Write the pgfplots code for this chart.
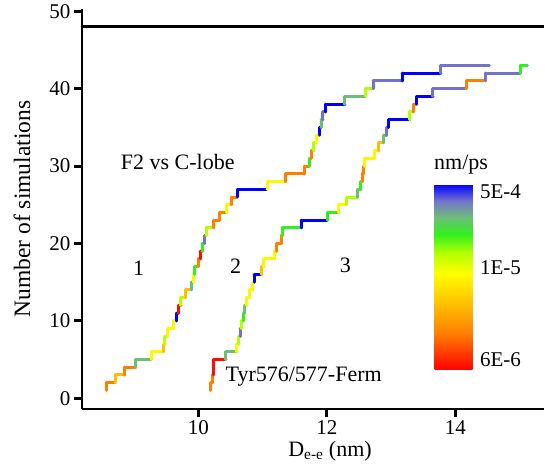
\documentclass[border=0pt]{standalone}
\usepackage{pgfplots}
\pgfplotsset{compat=1.18}
\usepackage{fontspec}
\setmainfont{Liberation Serif}
\usetikzlibrary{calc}
\pgfplotsset{
  every axis/.append style={font=\fontsize{22}{26}\selectfont},
  every tick label/.append style={font=\fontsize{21}{25}\selectfont},
}
\begin{document}
\begin{tikzpicture}
\begin{axis}[
  name=main,
  width=462pt, height=400pt, scale only axis,
  xmin=8.19, xmax=15.38, ymin=-1.4, ymax=50.3,
  axis lines=left, axis line style={-, line width=2.6pt},
  xtick={10,12,14}, ytick={0,10,20,30,40,50},
  /pgf/number format/assume math mode=true,
  tick align=outside, major tick length=8pt, tick style={line width=3pt, black},
  xlabel={D\textsubscript{e-e} (nm)}, ylabel={Number of simulations},
  xlabel style={xshift=17pt},
  ylabel style={at={(axis description cs:-0.13,0.5)}, anchor=center, font=\fontsize{23.5}{27}\selectfont},
  colormap={cb}{rgb255(0cm)=(255,0,0); rgb255(2cm)=(255,128,0); rgb255(3.5cm)=(255,190,0); rgb255(5.2cm)=(255,255,0); rgb255(6.3cm)=(180,255,0); rgb255(7.3cm)=(50,240,30); rgb255(8.2cm)=(110,190,120); rgb255(9.1cm)=(115,115,205); rgb255(10cm)=(0,0,255)},
  point meta min=0, point meta max=1,
  colorbar,
  colorbar/width=38pt,
  colorbar style={
    at={($(main.south west)+(344pt,39pt)$)}, anchor=south west,
    scale only axis, width=38pt, height=186pt,
    ytick={0.054,0.55,0.957}, yticklabels={6E-6,1E-5,5E-4},
    major tick length=0pt, axis line style={draw=none},
    yticklabel style={font=\fontsize{21}{25}\selectfont, xshift=4pt},
  },
  clip=false,
]
\addplot[black, line width=2.6pt, forget plot] coordinates {(8.19,48) (15.38,48)};
\addplot[mesh, point meta=explicit, shader=flat mean, line width=3pt, line cap=round] coordinates {
(8.57,1)[.2] (8.57,2)[.2] (8.71,2)[.2]
(8.71,2)[.35] (8.71,3)[.35] (8.85,3)[.35]
(8.85,3)[.2] (8.85,4)[.2] (9.03,4)[.2]
(9.03,4)[.82] (9.03,5)[.82] (9.27,5)[.82]
(9.27,5)[.5] (9.27,6)[.5] (9.46,6)[.5]
(9.46,6)[.35] (9.46,7)[.35] (9.48,7)[.35]
(9.48,7)[.63] (9.48,8)[.63] (9.52,8)[.63]
(9.52,8)[.5] (9.52,9)[.5] (9.61,9)[.5]
(9.61,9)[.5] (9.61,10)[.5] (9.66,10)[.5]
(9.66,10)[1] (9.66,11)[1] (9.69,11)[1]
(9.69,11)[.02] (9.69,12)[.02] (9.73,12)[.02]
(9.73,12)[.63] (9.73,13)[.63] (9.80,13)[.63]
(9.80,13)[.35] (9.80,14)[.35] (9.89,14)[.35]
(9.89,14)[.82] (9.89,15)[.82] (9.92,15)[.82]
(9.92,15)[.5] (9.92,16)[.5] (9.94,16)[.5]
(9.94,16)[.73] (9.94,17)[.73] (10.00,17)[.73]
(10.00,17)[.2] (10.00,18)[.2] (10.03,18)[.2]
(10.03,18)[.02] (10.03,19)[.02] (10.06,19)[.02]
(10.06,19)[.73] (10.06,20)[.73] (10.10,20)[.73]
(10.10,20)[.91] (10.10,21)[.91] (10.12,21)[.91]
(10.12,21)[.63] (10.12,22)[.63] (10.24,22)[.63]
(10.24,22)[.2] (10.24,23)[.2] (10.33,23)[.2]
(10.33,23)[.2] (10.33,24)[.2] (10.44,24)[.2]
(10.44,24)[.5] (10.44,25)[.5] (10.52,25)[.5]
(10.52,25)[.2] (10.52,26)[.2] (10.61,26)[.2]
(10.61,26)[1] (10.61,27)[1] (11.07,27)[1]
(11.07,27)[.5] (11.07,28)[.5] (11.36,28)[.5]
(11.36,28)[.2] (11.36,29)[.2] (11.65,29)[.2]
(11.65,29)[.2] (11.65,30)[.2] (11.73,30)[.2]
(11.73,30)[.73] (11.73,31)[.73] (11.76,31)[.73]
(11.76,31)[.2] (11.76,32)[.2] (11.80,32)[.2]
(11.80,32)[.63] (11.80,33)[.63] (11.84,33)[.63]
(11.84,33)[.5] (11.84,34)[.5] (11.89,34)[.5]
(11.89,34)[1] (11.89,35)[1] (11.91,35)[1]
(11.91,35)[.82] (11.91,36)[.82] (11.94,36)[.82]
(11.94,36)[.91] (11.94,37)[.91] (11.98,37)[.91]
(11.98,37)[1] (11.98,38)[1] (12.28,38)[1]
(12.28,38)[.82] (12.28,39)[.82] (12.60,39)[.82]
(12.60,39)[.63] (12.60,40)[.63] (12.72,40)[.63]
(12.72,40)[.91] (12.72,41)[.91] (13.17,41)[.91]
(13.17,41)[1] (13.17,42)[1] (13.77,42)[1]
(13.77,42)[.91] (13.77,43)[.91] (14.53,43)[.91]
};
\addplot[mesh, point meta=explicit, shader=flat mean, line width=3pt, line cap=round] coordinates {
(10.19,1)[.2] (10.19,2)[.2] (10.22,2)[.2]
(10.22,2)[.2] (10.22,3)[.2] (10.23,3)[.2]
(10.23,3)[.02] (10.23,4)[.02] (10.24,4)[.02]
(10.24,4)[.02] (10.24,5)[.02] (10.43,5)[.02]
(10.43,5)[.82] (10.43,6)[.82] (10.60,6)[.82]
(10.60,6)[.5] (10.60,7)[.5] (10.63,7)[.5]
(10.63,7)[.63] (10.63,8)[.63] (10.65,8)[.63]
(10.65,8)[.91] (10.65,9)[.91] (10.67,9)[.91]
(10.67,9)[.63] (10.67,10)[.63] (10.70,10)[.63]
(10.70,10)[.73] (10.70,11)[.73] (10.72,11)[.73]
(10.72,11)[.82] (10.72,12)[.82] (10.75,12)[.82]
(10.75,12)[.5] (10.75,13)[.5] (10.80,13)[.5]
(10.80,13)[.5] (10.80,14)[.5] (10.85,14)[.5]
(10.85,14)[.5] (10.85,15)[.5] (10.87,15)[.5]
(10.87,15)[1] (10.87,16)[1] (10.98,16)[1]
(10.98,16)[.35] (10.98,17)[.35] (11.02,17)[.35]
(11.02,17)[.5] (11.02,18)[.5] (11.19,18)[.5]
(11.19,18)[.5] (11.19,19)[.5] (11.22,19)[.5]
(11.22,19)[.2] (11.22,20)[.2] (11.29,20)[.2]
(11.29,20)[.2] (11.29,21)[.2] (11.31,21)[.2]
(11.31,21)[.73] (11.31,22)[.73] (11.60,22)[.73]
(11.60,22)[1] (11.60,23)[1] (12.01,23)[1]
(12.01,23)[.73] (12.01,24)[.73] (12.18,24)[.73]
(12.18,24)[.5] (12.18,25)[.5] (12.31,25)[.5]
(12.31,25)[.63] (12.31,26)[.63] (12.48,26)[.63]
(12.48,26)[.82] (12.48,27)[.82] (12.53,27)[.82]
(12.53,27)[.73] (12.53,28)[.73] (12.55,28)[.73]
(12.55,28)[.2] (12.55,29)[.2] (12.57,29)[.2]
(12.57,29)[.2] (12.57,30)[.2] (12.59,30)[.2]
(12.59,30)[.5] (12.59,31)[.5] (12.74,31)[.5]
(12.74,31)[.5] (12.74,32)[.5] (12.81,32)[.5]
(12.81,32)[.35] (12.81,33)[.35] (12.88,33)[.35]
(12.88,33)[.82] (12.88,34)[.82] (12.93,34)[.82]
(12.93,34)[.91] (12.93,35)[.91] (12.96,35)[.91]
(12.96,35)[1] (12.96,36)[1] (13.29,36)[1]
(13.29,36)[.63] (13.29,37)[.63] (13.35,37)[.63]
(13.35,37)[.2] (13.35,38)[.2] (13.40,38)[.2]
(13.40,38)[1] (13.40,39)[1] (13.65,39)[1]
(13.65,39)[.91] (13.65,40)[.91] (14.17,40)[.91]
(14.17,40)[.2] (14.17,41)[.2] (14.47,41)[.2]
(14.47,41)[.91] (14.47,42)[.91] (15.01,42)[.91]
(15.01,42)[.73] (15.01,43)[.73] (15.12,43)[.73]
};
\node[anchor=base west] at (axis cs:8.74,29.5) {F2 vs C-lobe};
\node at (axis cs:9.07,16.8) {1};
\node at (axis cs:10.58,17.1) {2};
\node at (axis cs:12.29,17.2) {3};
\node[anchor=base west] at (axis cs:10.37,2.1) {Tyr576/577-Ferm};
\node[anchor=base] at (axis cs:14.09,29.5) {nm/ps};
\end{axis}
\pgfresetboundingbox
\path[use as bounding box] ($(main.south west)+(-82pt,-61pt)$) rectangle ($(main.south west)+(463pt,409pt)$);
\end{tikzpicture}
\end{document}
